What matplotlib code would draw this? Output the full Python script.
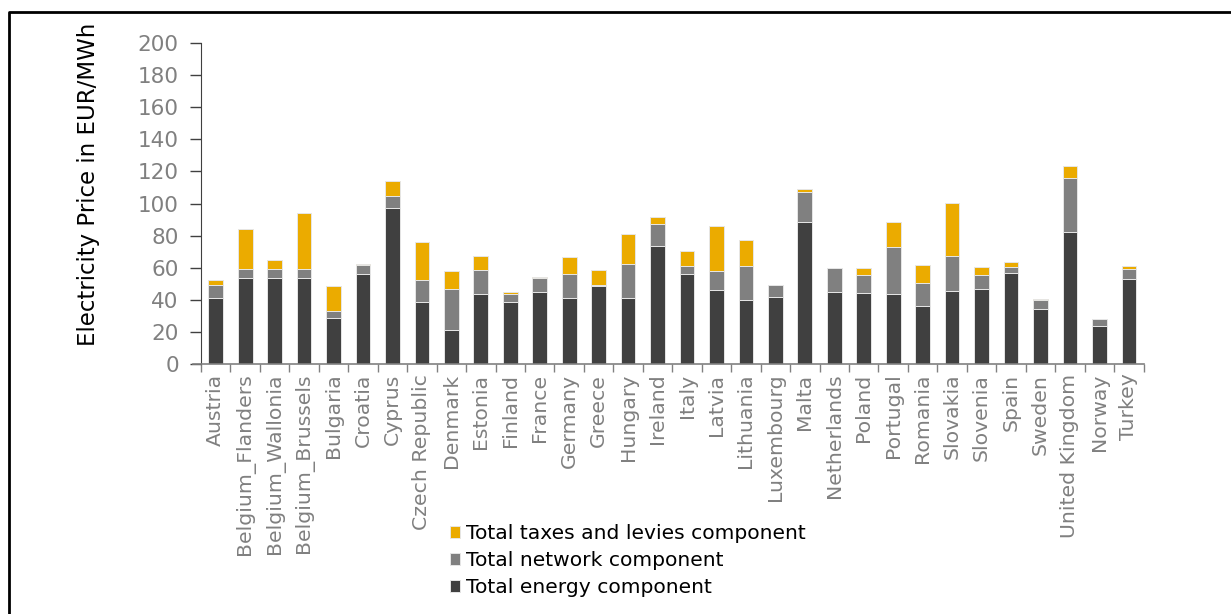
import matplotlib
matplotlib.use("Agg")
import matplotlib.pyplot as plt
from matplotlib.lines import Line2D
import numpy as np

countries = [
    "Austria", "Belgium_Flanders", "Belgium_Wallonia", "Belgium_Brussels",
    "Bulgaria", "Croatia", "Cyprus", "Czech Republic", "Denmark", "Estonia",
    "Finland", "France", "Germany", "Greece", "Hungary", "Ireland", "Italy",
    "Latvia", "Lithuania", "Luxembourg", "Malta", "Netherlands", "Poland",
    "Portugal", "Romania", "Slovakia", "Slovenia", "Spain", "Sweden",
    "United Kingdom", "Norway", "Turkey",
]

# EUR/MWh per component
energy = [41.1, 53.3, 53.3, 53.3, 28.7, 55.8, 97.0, 38.4, 20.9, 43.6,
          38.6, 44.6, 40.9, 48.6, 40.9, 73.7, 55.8, 45.9, 39.9, 41.7,
          88.5, 44.6, 44.0, 43.4, 36.3, 45.2, 46.7, 56.4, 34.5, 82.0,
          23.4, 53.1]
network = [8.1, 5.9, 5.9, 5.9, 4.1, 5.6, 7.4, 13.7, 26.0, 15.0,
           5.3, 9.0, 15.4, 0.6, 21.4, 13.5, 5.0, 12.0, 20.9, 7.3,
           18.9, 15.0, 11.3, 29.7, 14.4, 22.1, 8.6, 4.0, 5.6, 33.6,
           4.4, 5.8]
taxes = [3.1, 24.9, 5.6, 35.1, 15.5, 1.1, 9.6, 23.9, 11.0, 8.7,
         1.1, 0.6, 10.1, 9.6, 18.7, 4.4, 9.8, 27.9, 16.5, 0.4,
         1.6, 0.0, 4.7, 15.6, 11.2, 33.0, 5.1, 3.2, 0.6, 7.5,
         0.0, 1.9]

yticks = list(range(0, 201, 20))

c_tax = "#EBAB00"
c_net = "#808080"
c_en = "#404040"
tick_grey = "#808080"

W, H = 1231, 614
fig = plt.figure(figsize=(W / 100, H / 100), dpi=100)
ax = fig.add_axes([201 / W, 1 - 364 / H, (1143.6 - 201) / W, (364 - 43) / H])

x = np.arange(len(countries))
energy_a = np.array(energy)
network_a = np.array(network)
taxes_a = np.array(taxes)
bw = 0.5
edge = dict(edgecolor="#e6e6e6", linewidth=0.7)
b1 = ax.bar(x, energy_a, bw, color=c_en, label="Total energy component", **edge)
b2 = ax.bar(x, network_a, bw, bottom=energy_a, color=c_net,
            label="Total network component", **edge)
b3 = ax.bar(x, taxes_a, bw, bottom=energy_a + network_a, color=c_tax,
            label="Total taxes and levies component", **edge)

ax.set_xlim(-0.5, len(countries) - 0.5)
ax.set_ylim(0, 200)
ax.set_yticks(yticks)
ax.set_yticklabels([str(v) for v in yticks])

ax.set_xticks(x)
ax.set_xticklabels(countries, rotation=90)
ax.set_xticks(np.arange(len(countries) + 1) - 0.5, minor=True)
ax.tick_params(axis="x", which="major", length=0, pad=7, labelsize=14.7,
               labelcolor=tick_grey)
ax.tick_params(axis="x", which="minor", length=6, color=tick_grey, width=1)
ax.tick_params(axis="y", length=8, width=1, color="#404040", pad=8,
               labelsize=15.5, labelcolor=tick_grey)

for s in ["top", "right"]:
    ax.spines[s].set_visible(False)
ax.spines["left"].set_color("#404040")
ax.spines["bottom"].set_color(tick_grey)
ax.spines["bottom"].set_bounds(-0.77, len(countries) - 0.5)
ax.spines["bottom"].set_linewidth(1.2)

ax.set_ylabel("Electricity Price in EUR/MWh", fontsize=16.5, color="black")
ax.yaxis.set_label_coords(-0.107, 0.56)

fig.legend(handles=[b3, b2, b1], loc="upper left",
           bbox_to_anchor=(432 / W, 1 - 506 / H), frameon=False,
           fontsize=14.6, handlelength=0.5, handleheight=0.5,
           handletextpad=0.3, labelspacing=0.4)

# frame lines on the left and top of the figure
fig.add_artist(Line2D([8.5 / W, 8.5 / W, 1.0], [0.0, 1 - 12 / H, 1 - 12 / H],
                      transform=fig.transFigure, color="black", linewidth=2.0))

fig.savefig("out.png", dpi=100, facecolor="white")
